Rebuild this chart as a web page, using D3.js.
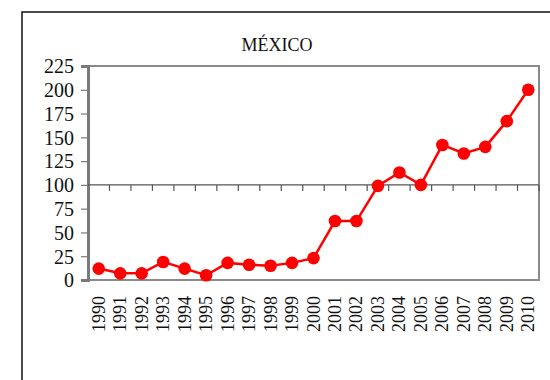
<!DOCTYPE html>
<meta charset="utf-8">
<style>
  body { margin: 0; background: white; }
  svg text { font-family: "Liberation Serif", "DejaVu Serif", "Times New Roman", serif !important; fill: #111; }
  .title { font-size: 18px; text-anchor: middle; }
  .ytick { font-size: 20px; }
  .xtick { font-size: 18px; }
</style>
<body>
<script src="https://cdn.jsdelivr.net/npm/d3@7"></script>
<script>

// data
const years = ["1990","1991","1992","1993","1994","1995","1996","1997","1998","1999","2000",
               "2001","2002","2003","2004","2005","2006","2007","2008","2009","2010"]
const values = [12, 7, 7, 19, 12, 5, 18, 16, 15, 18, 23, 62, 62, 99, 113, 100, 142, 133, 140, 167, 200]
const yTicks = [0, 25, 50, 75, 100, 125, 150, 175, 200, 225]
const crossAt = 100

const W = 550, H = 380
const plot = {left: 88, right: 539, top: 66, bottom: 280}
const serif = '"Liberation Serif", "Times New Roman", serif'

const svg = d3.select("body").append("svg")
  .attr("width", W)
  .attr("height", H)
  .attr("font-family", serif)

// outer frame (runs off the picture on right and bottom)
svg.append("rect")
  .attr("x", 22).attr("y", 12)
  .attr("width", W + 20).attr("height", H + 20)
  .attr("fill", "white")
  .attr("stroke", "#111")
  .attr("stroke-width", 1.5)

svg.append("text")
  .attr("class", "title")
  .attr("x", 277)
  .attr("y", 51)
  .text("MÉXICO")

const x = d3.scaleBand()
  .domain(years)
  .range([plot.left, plot.right])

const y = d3.scaleLinear()
  .domain([0, 225])
  .range([plot.bottom, plot.top])

// plot area border
svg.append("rect")
  .attr("x", plot.left).attr("y", plot.top)
  .attr("width", plot.right - plot.left)
  .attr("height", plot.bottom - plot.top)
  .attr("fill", "none")
  .attr("stroke", "#8a8a8a")
  .attr("stroke-width", 2)

// y axis
const yAxis = svg.append("g")
  .attr("transform", `translate(${plot.left},0)`)
  .call(d3.axisLeft(y).tickValues(yTicks).tickSize(7).tickPadding(7))
  .attr("font-family", serif)
yAxis.select(".domain").attr("stroke", "#7a7a7a").attr("stroke-width", 3)
yAxis.selectAll(".tick line").attr("stroke", "#7a7a7a").attr("stroke-width", 1.2)
yAxis.selectAll(".tick text")
  .attr("class", "ytick")
  .attr("fill", "#111")
  .attr("dy", "0.34em")

// category axis crossing at 100
const xAxis = svg.append("g")
  .attr("transform", `translate(0,${y(crossAt)})`)
xAxis.append("line")
  .attr("x1", plot.left).attr("x2", plot.right)
  .attr("stroke", "#555").attr("stroke-width", 1.2)
xAxis.selectAll(".tk")
  .data(years.slice(1).concat(["end"]))
  .enter().append("line")
    .attr("class", "tk")
    .attr("x1", (d, i) => plot.left + x.step() * (i + 1))
    .attr("x2", (d, i) => plot.left + x.step() * (i + 1))
    .attr("y1", 0).attr("y2", 6)
    .attr("stroke", "#555").attr("stroke-width", 1.2)

// year labels below the plot
svg.selectAll(".xtick")
  .data(years)
  .enter().append("text")
    .attr("class", "xtick")
    .attr("text-anchor", "end")
    .attr("transform", d => `translate(${x(d) + x.bandwidth() / 2 + 6},${plot.bottom + 16}) rotate(-90)`)
    .text(d => d)

// line + markers
const line = d3.line()
  .x((d, i) => x(years[i]) + x.bandwidth() / 2)
  .y(d => y(d))

svg.append("path")
  .datum(values)
  .attr("d", line)
  .attr("fill", "none")
  .attr("stroke", "#ff0000")
  .attr("stroke-width", 2.5)

svg.selectAll(".dot")
  .data(values)
  .enter().append("circle")
    .attr("class", "dot")
    .attr("cx", (d, i) => x(years[i]) + x.bandwidth() / 2)
    .attr("cy", d => y(d))
    .attr("r", 6.3)
    .attr("fill", "#ff0000")

</script>
</body>
